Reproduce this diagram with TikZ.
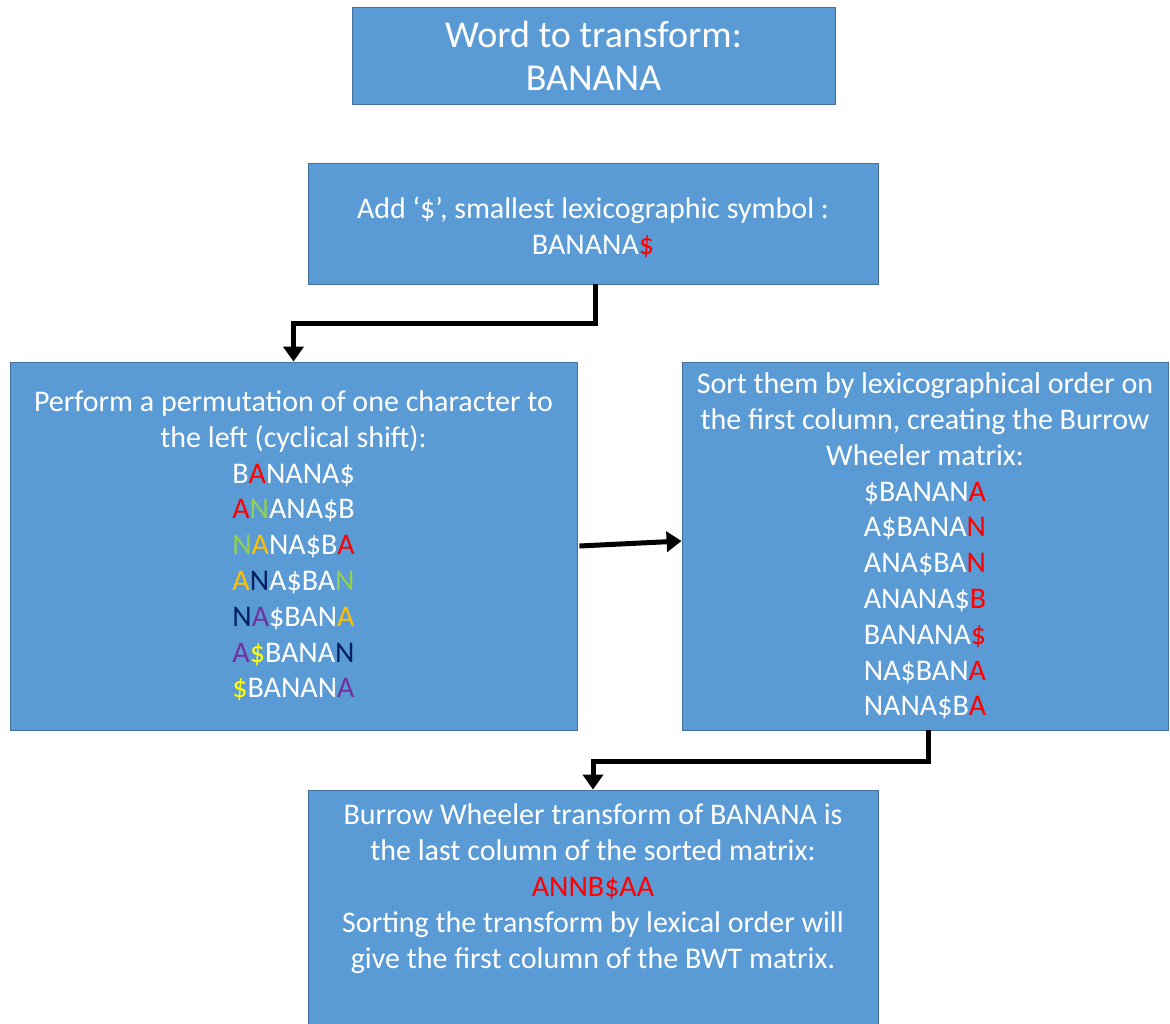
\documentclass[tikz,border=0pt]{standalone}
\usepackage{fontspec}
\setmainfont{Carlito}
\usetikzlibrary{arrows.meta}
\definecolor{boxfill}{HTML}{5B9BD5}
\definecolor{boxline}{HTML}{41719C}
\definecolor{cred}{HTML}{FF0000}
\definecolor{cgreen}{HTML}{92D050}
\definecolor{corange}{HTML}{FFC000}
\definecolor{cnavy}{HTML}{002060}
\definecolor{cpurple}{HTML}{7030A0}
\definecolor{cyellow}{HTML}{FFFF00}
\newcommand\colR[1]{\textcolor{cred}{#1}}
\newcommand\colG[1]{\textcolor{cgreen}{#1}}
\newcommand\colO[1]{\textcolor{corange}{#1}}
\newcommand\colN[1]{\textcolor{cnavy}{#1}}
\newcommand\colP[1]{\textcolor{cpurple}{#1}}
\newcommand\colY[1]{\textcolor{cyellow}{#1}}
\tikzset{
  box/.style={draw=boxline, line width=0.8pt, fill=boxfill, text=white,
    align=center, inner sep=0pt, font=\fontsize{30}{35.8}\selectfont},
  bigbox/.style={box, font=\fontsize{38}{43}\selectfont},
  boxtext/.style={text=white, align=center, inner sep=0pt,
    font=\fontsize{30}{36}\selectfont},
  arr/.style={line width=5pt, black, -{Triangle[width=20pt,length=15pt]}}
}
\begin{document}
\begin{tikzpicture}[x=1pt,y=-1pt]
\useasboundingbox (0,0) rectangle (1170,1023);

\node[bigbox, minimum width=483pt, minimum height=97pt] (word) at (593.5,55.5)
  {Word to transform:\\BANANA};

% flow step boxes
\node[box, minimum width=570pt, minimum height=121pt] (add) at (593,223.5) {};
\node[boxtext] (addtext) at (593,227)
  {Add ‘\$’, smallest lexicographic symbol :\\BANANA\colR{\$}};

\node[box, minimum width=567pt, minimum height=368pt] (perm) at (293.5,546)
  {Perform a permutation of one character to\\
   the left (cyclical shift):\\
   B\colR{A}NANA\$\\
   \colR{A}\colG{N}ANA\$B\\
   \colG{N}\colO{A}NA\$B\colR{A}\\
   \colO{A}\colN{N}A\$BA\colG{N}\\
   \colN{N}\colP{A}\$BAN\colO{A}\\
   \colP{A}\colY{\$}BANA\colN{N}\\
   \colY{\$}BANAN\colP{A}};

\node[box, minimum width=486pt, minimum height=368pt] (sort) at (925,546)
  {Sort them by lexicographical order on\\
   the first column, creating the Burrow\\
   Wheeler matrix:\\
   \$BANAN\colR{A}\\
   A\$BANA\colR{N}\\
   ANA\$BA\colR{N}\\
   ANANA\$\colR{B}\\
   BANANA\colR{\$}\\
   NA\$BAN\colR{A}\\
   NANA\$B\colR{A}};

\node[box, minimum width=570pt, minimum height=250pt] (bwt) at (593,915) {};
\node[boxtext] (bwttext) at (593,889)
  {Burrow Wheeler transform of BANANA is\\
   the last column of the sorted matrix:\\
   \colR{ANNB\$AA}\\
   Sorting the transform by lexical order will\\
   give the first column of the BWT matrix.};

% connectors
\draw[arr] ([xshift=2pt]add.south) -- ++(0,39) -| (perm.north);
\draw[arr] ([xshift=2pt]perm.east) -- ([yshift=5pt]sort.west);
\draw[arr] ([xshift=3pt]sort.south) -- ++(0,31) -| (bwt.north);
\end{tikzpicture}
\end{document}
